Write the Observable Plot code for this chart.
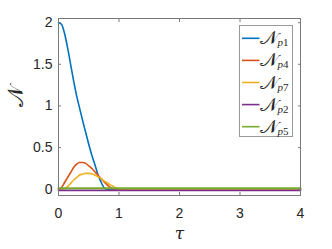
<!DOCTYPE html>
<html>
<head>
<meta charset="utf-8">
<script src="https://cdn.jsdelivr.net/npm/d3@7"></script>
<script src="https://cdn.jsdelivr.net/npm/@observablehq/plot@0.6"></script>
<style>
body{margin:0;background:#fff;}
#wrap{position:relative;width:332px;height:249px;}
#legend{position:absolute;left:239px;top:25px;width:54px;height:112px;border:1px solid #999;background:#fff;box-sizing:border-box;}
</style>
</head>
<body>
<div id="wrap"><div id="chart"></div><div id="legend"></div></div>
<script>
const tau = [0,0.05,0.1,0.15,0.2,0.25,0.3,0.35,0.4,0.45,0.5,0.55,0.6,0.65,0.7,0.75,0.8,0.85,0.9,0.95,1.0,1.05,1.1,2,3,4];
const Np1 = [2.0,1.98,1.87,1.7,1.5,1.3,1.12,0.97,0.82,0.68,0.54,0.41,0.3,0.18,0.09,0.02,0,0,0,0,0,0,0,0,0,0];
const Np4 = [0,0.02,0.08,0.14,0.2,0.26,0.3,0.32,0.32,0.31,0.28,0.25,0.21,0.17,0.13,0.09,0.055,0.025,0.005,0,0,0,0,0,0,0];
const Np7 = [0,0,0.005,0.03,0.07,0.11,0.14,0.17,0.18,0.19,0.19,0.185,0.17,0.15,0.13,0.1,0.08,0.055,0.035,0.015,0.005,0,0,0,0,0];
const Np2 = tau.map(() => -0.015);
const Np5 = tau.map(() => 0.01);
const seriesNames = ["p1","p4","p7","p2","p5"];
const seriesValues = [Np1,Np4,Np7,Np2,Np5];
const colors = ["#0072BD","#D95319","#EDB120","#7E2F8E","#77AC30"];
const xTicks = [0,1,2,3,4];
const xTickLabels = ["0","1","2","3","4"];
const yTicks = [0,0.5,1,1.5,2];
const yTickLabels = ["0","0.5","1","1.5","2"];

const rows = [];
seriesNames.forEach((s,i) => tau.forEach((t,j) => rows.push({s, t, v: seriesValues[i][j]})));

const axisColor = "#262626";
const mathFont = "'DejaVu Serif','Liberation Serif',serif";
const chart = Plot.plot({
  width: 332, height: 249,
  marginLeft: 58, marginRight: 32, marginTop: 18, marginBottom: 54,
  style: {fontFamily: "'Liberation Sans', Arial, sans-serif", fontSize: "14px", color: axisColor, background: "#fff"},
  x: {domain: [0,4]},
  y: {domain: [-0.076, 2.05]},
  marks: [
    ...seriesNames.map((s,i) => Plot.line(rows.filter(r => r.s === s), {x: "t", y: "v", stroke: colors[i], strokeWidth: i === 4 ? 2 : 1.6, curve: "monotone-x"})),
    Plot.frame({stroke: "#7a7a7a", strokeWidth: 1}),
    Plot.axisX({ticks: xTicks, anchor: "bottom", tickSize: -3, tickPadding: 16, tickFormat: (d) => xTickLabels[xTicks.indexOf(d)], label: null, stroke: "#7a7a7a", fill: axisColor}),
    Plot.axisX({ticks: xTicks, anchor: "top", tickSize: -3, tickFormat: () => "", label: null, stroke: "#7a7a7a"}),
    Plot.axisY({ticks: yTicks, anchor: "left", tickSize: -3, tickPadding: 9, tickFormat: (d) => yTickLabels[yTicks.indexOf(d)], label: null, stroke: "#7a7a7a", fill: axisColor}),
    Plot.axisY({ticks: yTicks, anchor: "right", tickSize: -3, tickFormat: () => "", label: null, stroke: "#7a7a7a"}),
    Plot.text(["τ"], {frameAnchor: "bottom", dy: 43, fontSize: 17, fontStyle: "italic", fontFamily: mathFont, fill: axisColor}),
    Plot.text(["𝒩"], {frameAnchor: "left", dx: -43, rotate: -90, fontSize: 22, fontFamily: mathFont, fill: axisColor})
  ]
});
document.getElementById("chart").appendChild(chart);

const ns = "http://www.w3.org/2000/svg";
const leg = document.createElementNS(ns, "svg");
leg.setAttribute("width", 54); leg.setAttribute("height", 112);
leg.style.position = "absolute"; leg.style.left = "-1px"; leg.style.top = "-1px";
seriesNames.forEach((s,i) => {
  const y = 13.3 + i * 22.1;
  const ln = document.createElementNS(ns, "line");
  ln.setAttribute("x1", 3); ln.setAttribute("x2", 20.5);
  ln.setAttribute("y1", y); ln.setAttribute("y2", y);
  ln.setAttribute("stroke", colors[i]); ln.setAttribute("stroke-width", 1.6);
  leg.appendChild(ln);
  const tx = document.createElementNS(ns, "text");
  tx.setAttribute("x", 20.5); tx.setAttribute("y", y + 6);
  tx.setAttribute("font-family", mathFont);
  tx.setAttribute("font-size", 19); tx.setAttribute("fill", axisColor);
  tx.textContent = "𝒩";
  const sub = document.createElementNS(ns, "tspan");
  sub.setAttribute("font-size", 11); sub.setAttribute("dy", 2);
  sub.setAttribute("font-family", "'Liberation Serif',serif");
  const p = document.createElementNS(ns, "tspan");
  p.setAttribute("font-style", "italic"); p.textContent = s[0];
  const n = document.createElementNS(ns, "tspan");
  n.textContent = s.slice(1);
  sub.appendChild(p); sub.appendChild(n);
  tx.appendChild(sub);
  leg.appendChild(tx);
});
document.getElementById("legend").appendChild(leg);
</script>
</body>
</html>
